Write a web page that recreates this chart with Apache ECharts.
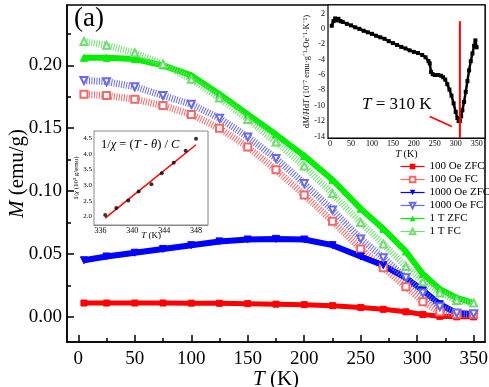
<!DOCTYPE html>
<html><head><meta charset="utf-8">
<script src="https://cdn.jsdelivr.net/npm/echarts@6/dist/echarts.min.js"></script>
<style>html,body{margin:0;padding:0;background:#fff}#c{width:489px;height:387px}</style>
</head><body><div id="c"></div>
<script>
// ---- main panel data: M (emu/g) vs T (K)
const temps   = [5, 25, 50, 75, 100, 125, 150, 175, 200, 225, 250, 270, 290, 305, 320, 335, 350];
const zfc100  = [0.011, 0.011, 0.011, 0.011, 0.0109, 0.0108, 0.0105, 0.0101, 0.0097, 0.0089, 0.0075, 0.0060, 0.0040, 0.0018, 0.0004, 0.0, 0.0];
const fc100   = [0.177, 0.176, 0.173, 0.168, 0.161, 0.150, 0.135, 0.117, 0.097, 0.076, 0.054, 0.039, 0.024, 0.012, 0.004, 0.002, 0.002];
const zfc1000 = [0.045, 0.048, 0.051, 0.054, 0.057, 0.060, 0.0615, 0.062, 0.0615, 0.057, 0.048, 0.041, 0.031, 0.021, 0.010, 0.003, 0.002];
const fc1000  = [0.188, 0.187, 0.183, 0.176, 0.169, 0.158, 0.143, 0.126, 0.106, 0.085, 0.062, 0.047, 0.031, 0.019, 0.008, 0.003, 0.0025];
const zfc1T   = [0.206, 0.206, 0.205, 0.200, 0.192, 0.177, 0.161, 0.145, 0.128, 0.109, 0.086, 0.070, 0.052, 0.034, 0.022, 0.015, 0.011];
const fc1T    = [0.219, 0.216, 0.210, 0.201, 0.189, 0.174, 0.157, 0.139, 0.120, 0.098, 0.075, 0.058, 0.040, 0.028, 0.019, 0.013, 0.011];
const seriesNames = ['100 Oe ZFC', '100 Oe FC', '1000 Oe ZFC', '1000 Oe FC', '1 T ZFC', '1 T FC'];
const xMajor = [0, 50, 100, 150, 200, 250, 300, 350];
const xMinor = [25, 75, 125, 175, 225, 275, 325];
const yMajor = [0, 0.05, 0.10, 0.15, 0.20];
const yMinor = [0.025, 0.075, 0.125, 0.175, 0.225];

// ---- top-right inset: dM/HdT vs T
const dT = [4, 8, 12, 16, 20, 25, 30, 40, 50, 60, 70, 80, 90, 100, 110, 120, 130, 140, 150, 160, 170, 180, 190, 200, 210, 220, 228, 235, 238, 241, 245, 250, 258, 265, 270, 275, 280, 285, 290, 295, 300, 304, 307, 310, 313, 316, 320, 324, 328, 332, 336, 340, 344, 347, 350];
const dV = [0.4, 1.0, 1.35, 1.1, 1.3, 1.0, 0.9, 0.65, 0.45, 0.2, 0.0, -0.25, -0.45, -0.65, -0.9, -1.1, -1.3, -1.6, -1.85, -2.1, -2.35, -2.55, -2.8, -3.0, -3.15, -3.4, -3.7, -4.2, -4.5, -5.6, -5.9, -6.0, -6.0, -6.1, -6.3, -6.6, -7.2, -7.9, -8.7, -9.7, -10.8, -11.6, -12.0, -12.0, -11.4, -10.6, -9.5, -8.2, -6.8, -5.4, -4.2, -3.2, -2.2, -1.5, -2.4];
const dXMajor = [0, 50, 100, 150, 200, 250, 300, 350];
const dXTicks = [0, 25, 50, 75, 100, 125, 150, 175, 200, 225, 250, 275, 300, 325, 350];
const dYMajor = [-14, -12, -10, -8, -6, -4, -2, 0, 2];
const dYTicks = [-14, -13, -12, -11, -10, -9, -8, -7, -6, -5, -4, -3, -2, -1, 0, 1, 2];
const tcLineT = [310, 310];
const tcLineV = [1.0, -14.2];
const arrowT = [238, 291];
const arrowV = [-11.4, -12.7];

// ---- lower-left inset: 1/chi vs T
const chiT = [336.6, 338.0, 339.5, 340.8, 342.4, 343.7, 345.2, 346.7, 348.0];
const chiInv = [2.05, 2.27, 2.51, 2.80, 3.03, 3.38, 3.72, 4.10, 4.48];
const fitT = [336.6, 348.0];
const fitInv = [1.95, 4.29];
const cXMajor = [336, 340, 344, 348];
const cXTicks = [336, 338, 340, 342, 344, 346, 348];
const cYMajor = [2.0, 2.5, 3.0, 3.5, 4.0, 4.5];

const F = 'Liberation Serif';
const zip = (a, b) => a.map((v, i) => [v, b[i]]);

function mainSeries(name, vals, color, opts) {
  return Object.assign({
    name: name, type: 'line', xAxisIndex: 0, yAxisIndex: 0, data: zip(temps, vals),
    symbolSize: 7, showAllSymbol: true,
    itemStyle: { color: color, borderColor: color },
    lineStyle: { color: color, width: 5 },
    emphasis: { disabled: true }
  }, opts);
}
function nameStyle(size) {
  return { color: '#000', fontFamily: F, fontSize: size,
    rich: { i: { fontStyle: 'italic', fontFamily: F, fontSize: size, color: '#000' } } };
}

const chart = echarts.init(document.getElementById('c'), null, { renderer: 'canvas' });
const axisBase = (c, w) => ({ show: true, onZero: false, lineStyle: { color: c, width: w } });
const noLine = { show: false, onZero: false };

chart.setOption({
  animation: false,
  backgroundColor: '#fff',
  grid: [
    { left: 67, top: 5, right: 4, bottom: 45, show: true, borderColor: '#000', borderWidth: 1.5, backgroundColor: 'transparent', containLabel: false, outerBoundsMode: 'none', z: 0 },
    { left: 328, top: 5, right: 4, bottom: 249, show: true, borderColor: '#000', borderWidth: 1.2, backgroundColor: '#fff', containLabel: false, outerBoundsMode: 'none', z: 1 },
    { left: 94, top: 131, right: 281, bottom: 162, show: true, borderColor: '#888', borderWidth: 1, backgroundColor: '#fff', containLabel: false, outerBoundsMode: 'none', z: 1 }
  ],
  xAxis: [
    { gridIndex: 0, type: 'value', min: -10, max: 360, position: 'bottom',
      axisLine: axisBase('#000', 1.5),
      axisTick: { show: true, inside: true, length: 7, customValues: xMajor, lineStyle: { color: '#000', width: 1.5 } },
      axisLabel: { customValues: xMajor, color: '#000', fontFamily: F, fontSize: 19, margin: 8 },
      splitLine: { show: false },
      name: '{i|T} (K)', nameLocation: 'middle', nameGap: 27, nameMoveOverlap: false,
      nameTextStyle: nameStyle(21) },
    { gridIndex: 0, type: 'value', min: -10, max: 360, position: 'bottom',
      axisLine: noLine,
      axisTick: { show: true, inside: true, length: 4, customValues: xMinor, lineStyle: { color: '#000', width: 1.5 } },
      axisLabel: { show: false }, splitLine: { show: false } },
    { gridIndex: 1, type: 'value', min: -5, max: 370, position: 'bottom',
      axisLine: axisBase('#000', 1),
      axisTick: { show: true, inside: true, length: 3, customValues: dXTicks, lineStyle: { color: '#000', width: 1 } },
      axisLabel: { customValues: dXMajor, color: '#000', fontFamily: F, fontSize: 8, margin: 2 },
      splitLine: { show: false },
      name: '{i|T} (K)', nameLocation: 'middle', nameGap: 11, nameMoveOverlap: false,
      nameTextStyle: nameStyle(10) },
    { gridIndex: 2, type: 'value', min: 335.2, max: 349.5, position: 'bottom',
      axisLine: axisBase('#888', 1),
      axisTick: { show: true, inside: true, length: 3, customValues: cXTicks, lineStyle: { color: '#888', width: 1 } },
      axisLabel: { customValues: cXMajor, color: '#000', fontFamily: F, fontSize: 8, margin: 2 },
      splitLine: { show: false },
      name: '{i|T} (K)', nameLocation: 'middle', nameGap: 6, nameMoveOverlap: false,
      nameTextStyle: nameStyle(9) }
  ],
  yAxis: [
    { gridIndex: 0, type: 'value', min: -0.02, max: 0.248, position: 'left',
      axisLine: axisBase('#000', 1.5),
      axisTick: { show: true, inside: true, length: 7, customValues: yMajor, lineStyle: { color: '#000', width: 1.5 } },
      axisLabel: { customValues: yMajor, color: '#000', fontFamily: F, fontSize: 19, margin: 5, formatter: v => v.toFixed(2) },
      splitLine: { show: false },
      name: '{i|M} (emu/g)', nameLocation: 'middle', nameGap: 39, nameRotate: 90, nameMoveOverlap: false,
      nameTextStyle: nameStyle(21) },
    { gridIndex: 0, type: 'value', min: -0.02, max: 0.248, position: 'left',
      axisLine: noLine,
      axisTick: { show: true, inside: true, length: 4, customValues: yMinor, lineStyle: { color: '#000', width: 1.5 } },
      axisLabel: { show: false }, splitLine: { show: false } },
    { gridIndex: 1, type: 'value', min: -14.2, max: 3.1, position: 'left',
      axisLine: axisBase('#000', 1),
      axisTick: { show: true, inside: true, length: 3, customValues: dYTicks, lineStyle: { color: '#000', width: 1 } },
      axisLabel: { customValues: dYMajor, color: '#000', fontFamily: F, fontSize: 8, margin: 3 },
      splitLine: { show: false },
      name: 'd{i|M}/{i|H}d{i|T} (10⁻⁷ emu·g⁻¹·Oe⁻¹·K⁻¹)', nameLocation: 'middle', nameGap: 17, nameRotate: 90, nameMoveOverlap: false,
      nameTextStyle: nameStyle(8.5) },
    { gridIndex: 2, type: 'value', min: 1.73, max: 4.73, position: 'left',
      axisLine: axisBase('#888', 1),
      axisTick: { show: true, inside: true, length: 3, customValues: cYMajor, lineStyle: { color: '#888', width: 1 } },
      axisLabel: { customValues: cYMajor, color: '#000', fontFamily: F, fontSize: 7, margin: 2, formatter: v => v.toFixed(1) },
      splitLine: { show: false },
      name: '1/{i|χ} (10³ g/emu)', nameLocation: 'middle', nameGap: 14, nameRotate: 90, nameMoveOverlap: false,
      nameTextStyle: nameStyle(7) }
  ],
  legend: {
    left: 400, top: 161, orient: 'vertical', padding: 0,
    itemWidth: 24, itemHeight: 7, itemGap: 2,
    textStyle: { fontFamily: F, fontSize: 11, color: '#000', lineHeight: 11 },
    data: seriesNames.map(n => ({ name: n, lineStyle: { type: 'solid', width: 1.2 } }))
  },
  title: [
    { text: '(a)', left: 74, top: 5, padding: 0, textStyle: { fontFamily: F, fontSize: 27, fontWeight: 'normal', color: '#000' } },
    { text: '{i|T} = 310 K', left: 362, top: 96, padding: 0,
      textStyle: { fontFamily: F, fontSize: 17, fontWeight: 'normal', color: '#000',
        rich: { i: { fontStyle: 'italic', fontFamily: F, fontSize: 17, color: '#000' } } } },
    { text: '1/{i|χ} = ({i|T} - {i|θ}) / {i|C}', left: 101, top: 138, padding: 0,
      textStyle: { fontFamily: F, fontSize: 12.5, fontWeight: 'normal', color: '#000',
        rich: { i: { fontStyle: 'italic', fontFamily: F, fontSize: 12.5, color: '#000' } } } }
  ],
  series: [
    mainSeries(seriesNames[0], zfc100, '#ff0000', { symbol: 'rect', symbolSize: 6 }),
    mainSeries(seriesNames[1], fc100, '#f06a6a', { symbol: 'emptyRect', lineStyle: { color: '#f06a6a', width: 7, type: [1, 1.5] } }),
    mainSeries(seriesNames[2], zfc1000, '#0000ff', { symbol: 'triangle', symbolRotate: 180, lineStyle: { color: '#0000ff', width: 6 } }),
    mainSeries(seriesNames[3], fc1000, '#6a6ae6', { symbol: 'emptyTriangle', symbolRotate: 180, lineStyle: { color: '#6a6ae6', width: 7, type: [1, 1.5] } }),
    mainSeries(seriesNames[4], zfc1T, '#00ee00', { symbol: 'triangle', lineStyle: { color: '#00ee00', width: 6 } }),
    mainSeries(seriesNames[5], fc1T, '#74dc74', { symbol: 'emptyTriangle', lineStyle: { color: '#74dc74', width: 7, type: [1, 1.5] } }),
    { type: 'line', xAxisIndex: 2, yAxisIndex: 2, data: zip(dT, dV), symbol: 'rect', symbolSize: 4,
      itemStyle: { color: '#000' }, lineStyle: { color: '#000', width: 2.5 }, emphasis: { disabled: true }, z: 3 },
    { type: 'line', xAxisIndex: 2, yAxisIndex: 2, data: zip(tcLineT, tcLineV), symbol: 'none',
      lineStyle: { color: '#ff0000', width: 2 }, emphasis: { disabled: true }, z: 4,
      markLine: { silent: true, animation: false, symbol: ['none', 'arrow'], symbolSize: [0, 7],
        label: { show: false }, lineStyle: { color: '#ff0000', width: 1.5, type: 'solid' },
        data: [[{ coord: [arrowT[0], arrowV[0]] }, { coord: [arrowT[1], arrowV[1]] }]] } },
    { type: 'scatter', xAxisIndex: 3, yAxisIndex: 3, data: zip(chiT, chiInv), symbol: 'circle', symbolSize: 4,
      itemStyle: { color: '#000' }, emphasis: { disabled: true }, z: 4 },
    { type: 'line', xAxisIndex: 3, yAxisIndex: 3, data: zip(fitT, fitInv), symbol: 'none',
      lineStyle: { color: '#ff0000', width: 1.5 }, emphasis: { disabled: true }, z: 3 }
  ]
});
</script></body></html>
